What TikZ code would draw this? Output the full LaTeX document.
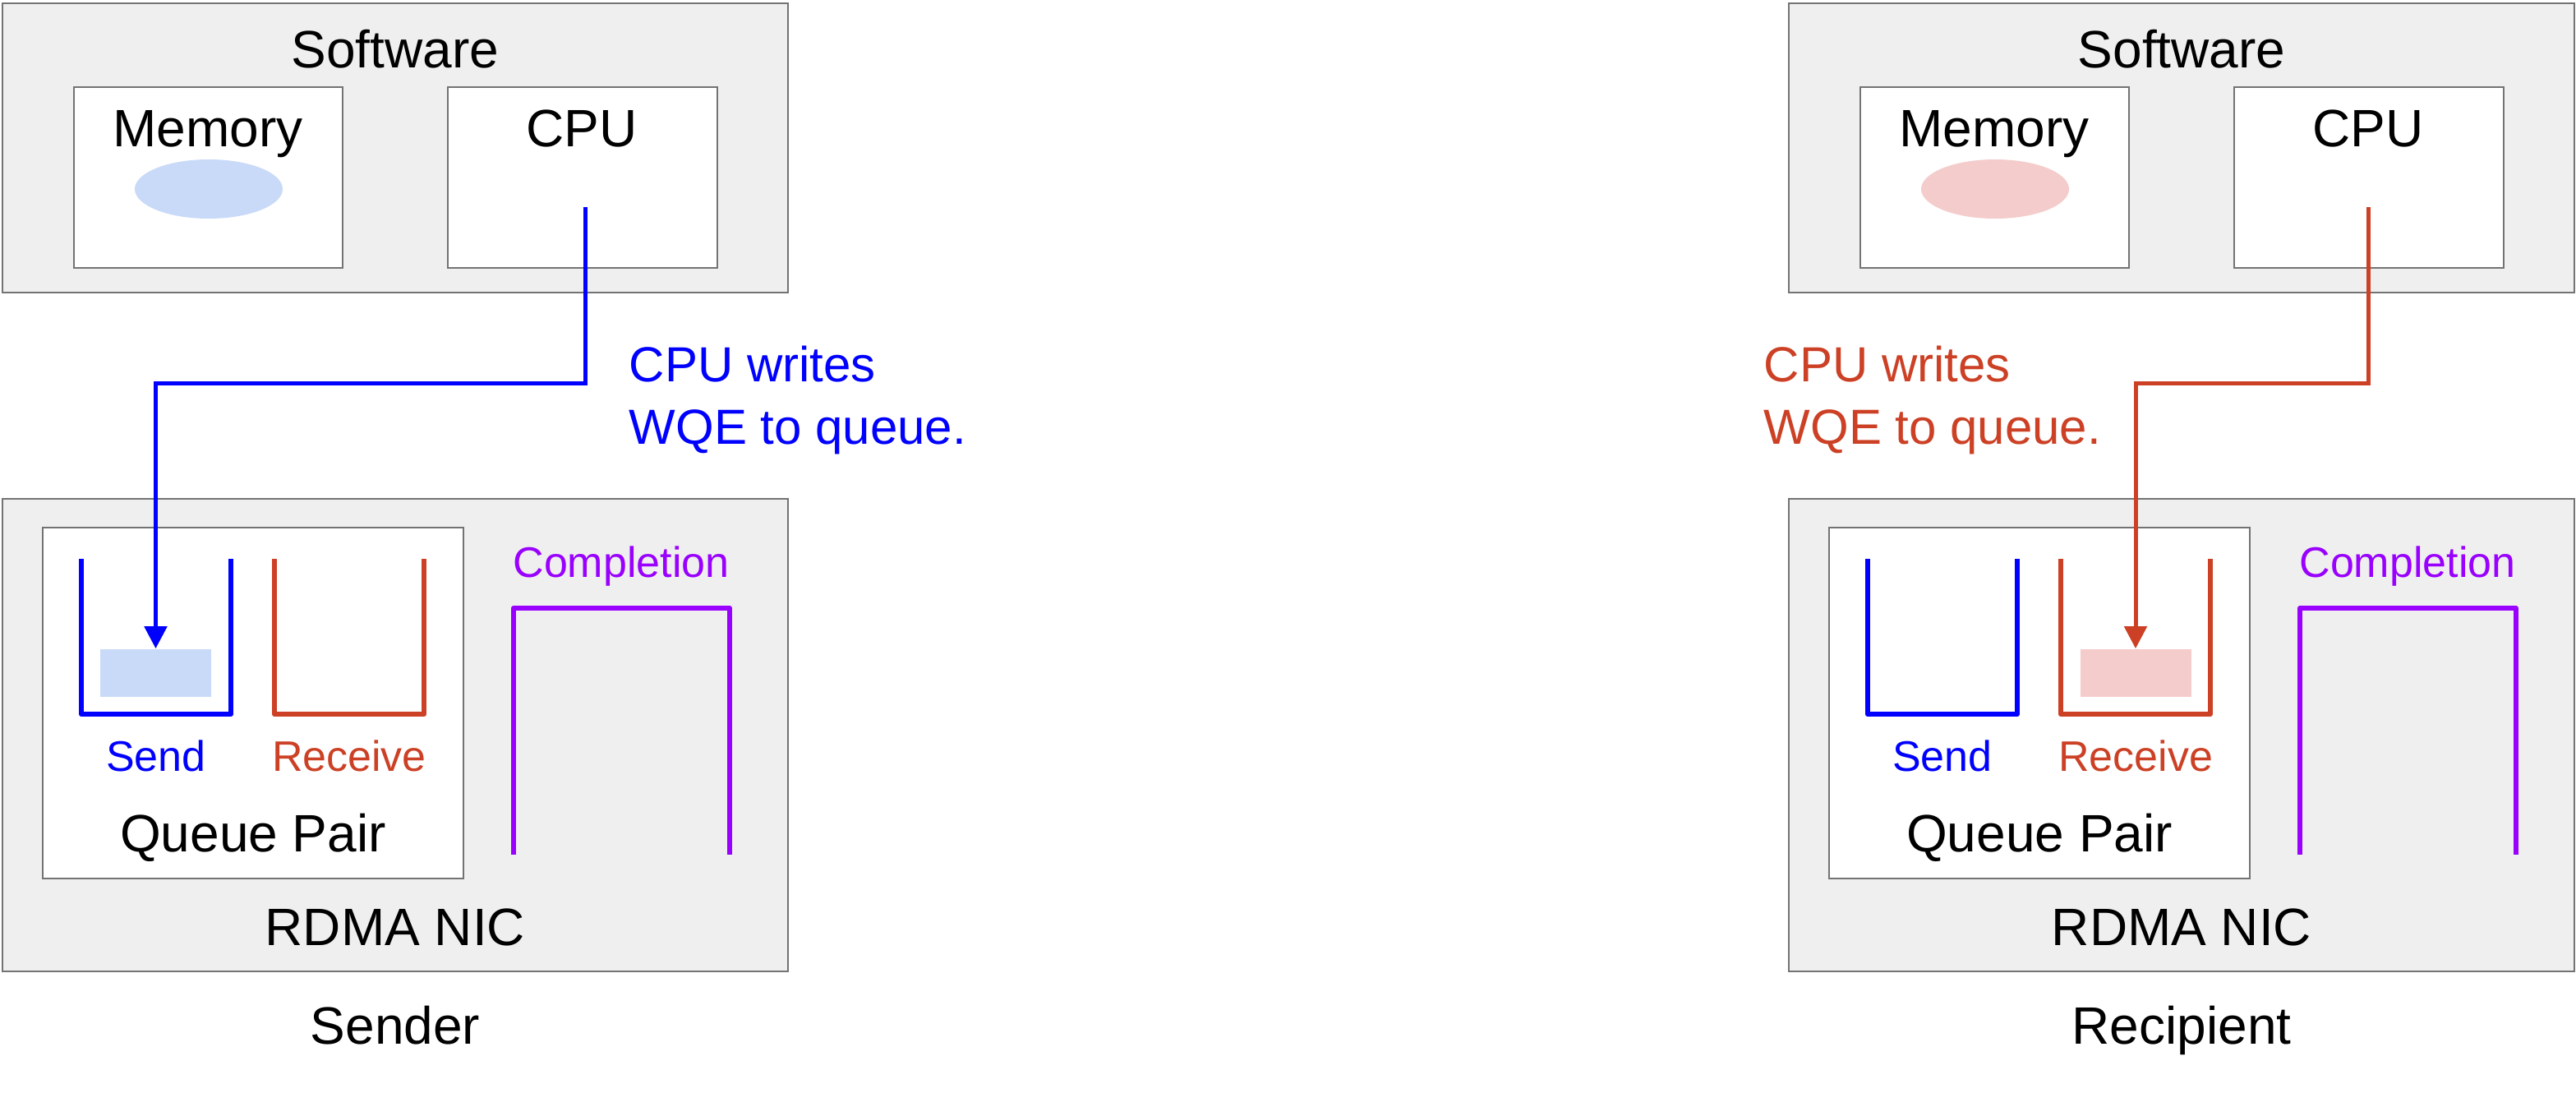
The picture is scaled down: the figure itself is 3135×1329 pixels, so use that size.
\documentclass[tikz,border=0pt]{standalone}
\usepackage{fontspec}
\setmainfont{Liberation Sans}
\usepackage{tikz}
\usetikzlibrary{shapes,arrows.meta,positioning}

\definecolor{boxgray}{HTML}{EFEFEF}
\definecolor{edgegray}{HTML}{737373}
\definecolor{sendblue}{HTML}{0000FF}
\definecolor{recvred}{HTML}{CC4125}
\definecolor{complpurple}{HTML}{9900FF}
\definecolor{lightblue}{HTML}{C9DAF8}
\definecolor{lightred}{HTML}{F4CCCC}

\begin{document}
\begin{tikzpicture}[x=0.25pt, y=-0.25pt,
    outerbox/.style={draw=edgegray, fill=boxgray, line width=0.6pt},
    innerbox/.style={draw=edgegray, fill=white, line width=0.6pt},
    queueline/.style={line width=1.5pt, line join=round},
    bigtext/.style={anchor=base, inner sep=0pt, font=\fontsize{16}{19}\selectfont},
    smalltext/.style={anchor=base, inner sep=0pt, font=\fontsize{13}{16}\selectfont},
    notetext/.style={anchor=west, inner sep=0pt, align=left, font=\fontsize{15}{19}\selectfont},
    wqebox/.style={inner sep=0pt, minimum width=33.75pt, minimum height=14.5pt},
    wqearrow/.style={line width=1.25pt, -{Triangle[length=6.75pt,width=6.75pt]}}]

    \useasboundingbox (0,0) rectangle (3135,1329);

    % ---------------- Sender ----------------
    % Software
    \draw[outerbox] (3,4) rectangle (959,356);
    \node[bigtext] (sw1) at (481,82) {Software};
    \draw[innerbox] (90,106) rectangle (417,326);
    \node[bigtext] (mem1) at (253,178) {Memory};
    \fill[lightblue] (254,230) ellipse [x radius=90, y radius=36];
    \draw[innerbox] (545,106) rectangle (873,326);
    \node[bigtext] (cpu1) at (708,178) {CPU};
    \coordinate (cpuOut1) at (712,252);
    \coordinate (bend1) at (712,466);

    % RDMA NIC
    \draw[outerbox] (3,607) rectangle (959,1182);
    \draw[innerbox] (52,642) rectangle (564,1069);
    \draw[queueline, sendblue] (99,680) -- (99,869) -- (281,869) -- (281,680);
    \draw[queueline, recvred] (334,680) -- (334,869) -- (516,869) -- (516,680);
    \node[wqebox, fill=lightblue] (wqe1) at (189.5,819) {};
    \node[smalltext, text=sendblue] (send1) at (190,938) {Send};
    \node[smalltext, text=recvred] (recv1) at (425,938) {Receive};
    \node[bigtext] (qp1) at (308,1036) {Queue Pair};
    \node[smalltext, text=complpurple] (cq1) at (756,702) {Completion};
    \draw[queueline, complpurple] (625,1040) -- (625,740) -- (888,740) -- (888,1040);
    \node[bigtext] (nic1) at (481,1150) {RDMA NIC};
    \node[bigtext] (sender) at (481,1270) {Sender};

    % CPU posts the WQE
    \draw[wqearrow, sendblue] (cpuOut1) -- (bend1) -| (wqe1.north);
    \node[notetext, text=sendblue] (note1) at (765,487) {CPU writes\\WQE to queue.};

    % ---------------- Recipient ----------------
    \begin{scope}[xshift=543.5pt]
        % Software
        \draw[outerbox] (3,4) rectangle (959,356);
        \node[bigtext] (sw2) at (481,82) {Software};
        \draw[innerbox] (90,106) rectangle (417,326);
        \node[bigtext] (mem2) at (253,178) {Memory};
        \fill[lightred] (254,230) ellipse [x radius=90, y radius=36];
        \draw[innerbox] (545,106) rectangle (873,326);
        \node[bigtext] (cpu2) at (708,178) {CPU};
        \coordinate (cpuOut2) at (708,252);
        \coordinate (bend2) at (708,466);

        % RDMA NIC
        \draw[outerbox] (3,607) rectangle (959,1182);
        \draw[innerbox] (52,642) rectangle (564,1069);
        \draw[queueline, sendblue] (99,680) -- (99,869) -- (281,869) -- (281,680);
        \draw[queueline, recvred] (334,680) -- (334,869) -- (516,869) -- (516,680);
        \node[wqebox, fill=lightred] (wqe2) at (425,819) {};
        \node[smalltext, text=sendblue] (send2) at (190,938) {Send};
        \node[smalltext, text=recvred] (recv2) at (425,938) {Receive};
        \node[bigtext] (qp2) at (308,1036) {Queue Pair};
        \node[smalltext, text=complpurple] (cq2) at (756,702) {Completion};
        \draw[queueline, complpurple] (625,1040) -- (625,740) -- (888,740) -- (888,1040);
        \node[bigtext] (nic2) at (481,1150) {RDMA NIC};
        \node[bigtext] (recipient) at (481,1270) {Recipient};

        % CPU posts the WQE
        \draw[wqearrow, recvred] (cpuOut2) -- (bend2) -| (wqe2.north);
        \node[notetext, text=recvred] (note2) at (-28,487) {CPU writes\\WQE to queue.};
    \end{scope}
\end{tikzpicture}
\end{document}
